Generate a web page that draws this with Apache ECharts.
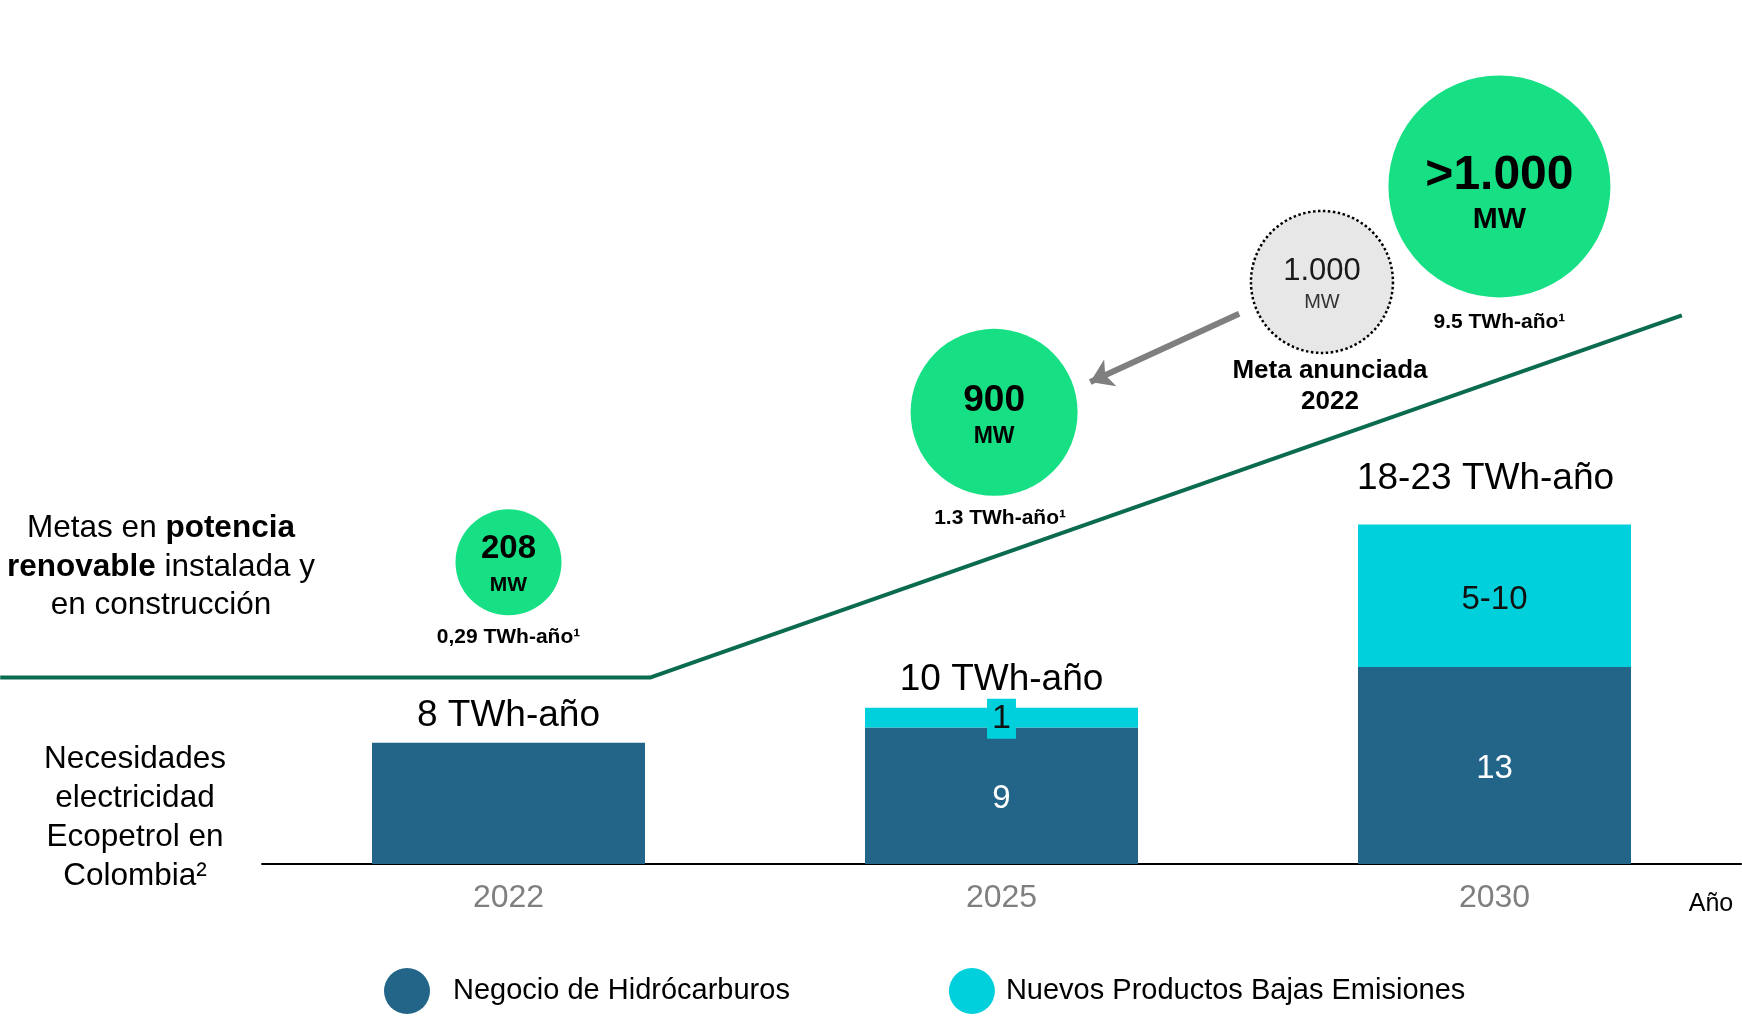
<!DOCTYPE html>
<html>
<head>
<meta charset="utf-8">
<script src="https://cdn.jsdelivr.net/npm/echarts@6/dist/echarts.min.js"></script>
<style>
  html, body { margin: 0; padding: 0; background: #fff; }
  #chart { width: 1742px; height: 1023px; }
</style>
</head>
<body>
<div id="chart"></div>
<script>
// categorías y valores (TWh-año)
const years = ['2022', '2025', '2030']
const hidrocarburos = [8, 9, 13]
const bajasEmisiones = [0, 1.3, 9.4]
const hidroLabels = ['', '9', '13']
const bajasLabels = ['', '1', '5-10']
const totalLabels = ['8 TWh-año', '10 TWh-año', '18-23 TWh-año']

// metas de potencia renovable
const mwLabels = ['208', '900', '>1.000']
const twhLabels = ['0,29 TWh-año¹', '1.3 TWh-año¹', '9.5 TWh-año¹']
const metaAnunciada = '1.000'

const FONT = '"Liberation Sans", Arial, sans-serif'
const DARK = '#236589'
const CYAN = '#00d0dc'
const GREEN = '#17e084'

const chart = echarts.init(document.getElementById('chart'))

// layout de las burbujas (posición en el eje oculto / tamaño)
const bubblePos = [[0, 19.9], [0.985, 29.8], [2.01, 44.7]]
const bubbleSize = [106, 167, 222]
const bubbleFont = [33, 37, 48]
const bubbleGap = [36, 35, 44]
const bubbleOff = [5, 6.5, 11]
const twhDist = [11, 12, 14]
const twhShift = [0, 6, 0]
const totalDist = [8, 10, 27]

const option = {
  animation: false,
  textStyle: { fontFamily: FONT },
  grid: [
    { left: 262, right: 1, top: 0, bottom: 159 },
    // capa superior: misma escala, pero ocupa todo el ancho
    { left: 0, right: 1, top: 0, bottom: 159 }
  ],
  legend: {
    data: ['Negocio de Hidrócarburos', 'Nuevos Productos Bajas Emisiones'],
    left: 379,
    top: 963,
    icon: 'circle',
    itemWidth: 46,
    itemHeight: 46,
    itemGap: 159,
    formatter: name => name === 'Negocio de Hidrócarburos' ? '{a|' + name + '}' : '{b|' + name + '}',
    textStyle: {
      fontSize: 29,
      color: '#000',
      fontFamily: FONT,
      rich: {
        a: { fontSize: 29, color: '#000', fontFamily: FONT, padding: [0, 0, 0, 18] },
        b: { fontSize: 29, color: '#000', fontFamily: FONT, padding: [0, 0, 0, 6] }
      }
    }
  },
  xAxis: [{
    type: 'category',
    gridIndex: 0,
    data: years,
    axisLine: { lineStyle: { color: '#000', width: 2 } },
    axisTick: { show: false },
    axisLabel: { color: '#7f7f7f', fontSize: 32, margin: 18, fontFamily: FONT }
  }, {
    type: 'value',
    gridIndex: 1,
    min: -0.5 - 262 / 493,
    max: 2.5,
    show: false
  }],
  yAxis: [{
    type: 'value',
    gridIndex: 0,
    min: 0,
    max: 57,
    show: false
  }, {
    type: 'value',
    gridIndex: 1,
    min: 0,
    max: 57,
    show: false
  }],
  graphic: [{
    type: 'text',
    x: 161,
    y: 567,
    style: {
      text: '{r|Metas en }{b|potencia}\n{b|renovable}{r| instalada y}\n{r|en construcción}',
      align: 'center',
      verticalAlign: 'middle',
      rich: {
        r: { fontSize: 31.5, fontFamily: FONT, color: '#000', lineHeight: 38.5 },
        b: { fontSize: 31.5, fontFamily: FONT, color: '#000', fontWeight: 'bold', lineHeight: 38.5 }
      }
    }
  }, {
    type: 'text',
    x: 135,
    y: 818,
    style: {
      text: 'Necesidades\nelectricidad\nEcopetrol en\nColombia²',
      align: 'center',
      verticalAlign: 'middle',
      fontSize: 31.5,
      lineHeight: 39,
      fontFamily: FONT,
      fill: '#000'
    }
  }, {
    type: 'text',
    x: 1711,
    y: 904,
    style: {
      text: 'Año',
      align: 'center',
      verticalAlign: 'middle',
      fontSize: 25,
      fontFamily: FONT,
      fill: '#000'
    }
  }],
  series: [{
    name: 'Negocio de Hidrócarburos',
    type: 'bar',
    stack: 'total',
    barWidth: 273,
    itemStyle: { color: DARK },
    label: {
      show: true,
      position: 'inside',
      color: '#fff',
      fontSize: 33,
      offset: [0, 3],
      fontFamily: FONT,
      formatter: p => hidroLabels[p.dataIndex]
    },
    data: hidrocarburos
  }, {
    name: 'Nuevos Productos Bajas Emisiones',
    type: 'bar',
    stack: 'total',
    barWidth: 273,
    itemStyle: { color: CYAN },
    label: {
      show: true,
      position: 'inside',
      color: '#111',
      fontSize: 33,
      offset: [0, 4],
      fontFamily: FONT,
      formatter: p => bajasLabels[p.dataIndex]
    },
    data: bajasEmisiones.map((v, i) => i === 1
      ? { value: v, label: { backgroundColor: CYAN, padding: [3, 5], fontSize: 34, offset: [0, 1] } }
      : v)
  }, {
    name: 'total',
    type: 'bar',
    stack: 'total',
    barWidth: 273,
    itemStyle: { color: 'transparent' },
    label: {
      show: true,
      position: 'top',
      color: '#000',
      fontSize: 37,
      fontFamily: FONT,
      formatter: p => totalLabels[p.dataIndex]
    },
    data: years.map((y, i) => ({
      value: 0,
      label: { distance: totalDist[i], offset: i === 2 ? [-9, 0] : [0, 0] }
    }))
  }, {
    // línea de crecimiento de potencia renovable
    type: 'line',
    xAxisIndex: 1,
    yAxisIndex: 1,
    showSymbol: false,
    silent: true,
    z: 1,
    lineStyle: { color: '#0b6b4f', width: 4 },
    data: [[-1.031, 12.3], [0.287, 12.3], [2.38, 36.2]]
  }, {
    type: 'lines',
    coordinateSystem: 'cartesian2d',
    xAxisIndex: 1,
    yAxisIndex: 1,
    symbol: ['none', 'arrow'],
    symbolSize: [18, 22],
    lineStyle: { color: '#7f7f7f', width: 6, opacity: 1 },
    data: [{ coords: [[1.482, 36.3], [1.18, 31.8]] }]
  }, {
    // meta anunciada 2022
    type: 'scatter',
    xAxisIndex: 1,
    yAxisIndex: 1,
    symbolSize: 142,
    itemStyle: { color: '#e7e7e7', opacity: 1, borderColor: '#000', borderWidth: 2.5, borderType: 'dotted' },
    label: {
      show: true,
      position: 'inside',
      offset: [0, 5.5],
      formatter: '{a|' + metaAnunciada + '}\n{b|MW}',
      rich: {
        a: { fontSize: 31, color: '#1a1a1a', fontFamily: FONT, lineHeight: 31 },
        b: { fontSize: 20, color: '#333', fontFamily: FONT, lineHeight: 31 }
      }
    },
    data: [[1.65, 38.4]]
  }, {
    type: 'scatter',
    xAxisIndex: 1,
    yAxisIndex: 1,
    symbolSize: 142,
    itemStyle: { color: 'transparent', opacity: 1 },
    label: {
      show: true,
      position: 'bottom',
      distance: 2,
      offset: [8, 0],
      formatter: 'Meta anunciada\n2022',
      fontSize: 26,
      lineHeight: 31,
      fontWeight: 'bold',
      color: '#000',
      fontFamily: FONT
    },
    data: [[1.65, 38.4]]
  }, {
    // burbujas de potencia renovable
    type: 'scatter',
    xAxisIndex: 1,
    yAxisIndex: 1,
    itemStyle: { color: GREEN, opacity: 1 },
    data: bubblePos.map((p, i) => ({
      value: p,
      symbolSize: bubbleSize[i],
      label: {
        show: true,
        position: 'inside',
        offset: [0, bubbleOff[i]],
        formatter: '{a|' + mwLabels[i] + '}\n{b|MW}',
        rich: {
          a: { fontSize: bubbleFont[i], fontWeight: 'bold', color: '#000', fontFamily: FONT, lineHeight: bubbleGap[i] },
          b: { fontSize: Math.round(bubbleFont[i] * 0.63), fontWeight: 'bold', color: '#000', fontFamily: FONT, lineHeight: bubbleGap[i] }
        }
      }
    }))
  }, {
    type: 'scatter',
    xAxisIndex: 1,
    yAxisIndex: 1,
    itemStyle: { color: 'transparent', opacity: 1 },
    data: bubblePos.map((p, i) => ({
      value: p,
      symbolSize: bubbleSize[i],
      label: {
        show: true,
        position: 'bottom',
        distance: twhDist[i],
        offset: [twhShift[i], 0],
        formatter: twhLabels[i],
        fontSize: 21,
        fontWeight: 'bold',
        color: '#000',
        fontFamily: FONT
      }
    }))
  }]
}

chart.setOption(option)
</script>
</body>
</html>
